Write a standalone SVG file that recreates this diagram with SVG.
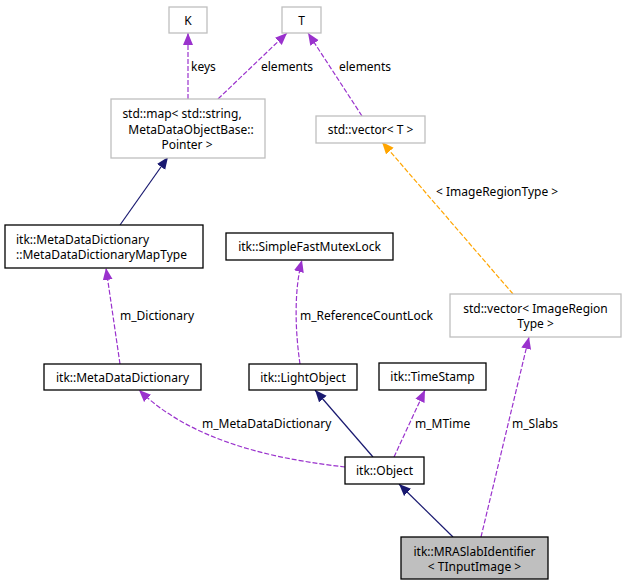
<svg xmlns="http://www.w3.org/2000/svg" width="627" height="587" viewBox="0 0 627 587">
<style>
text{font-family:"Noto Sans",sans-serif;font-size:12px;fill:#000}
.m{text-anchor:middle}
.ext{fill:#fff;stroke:#bfbfbf;stroke-width:1.3}
.doc{fill:#fff;stroke:#000;stroke-width:1.3}
.main{fill:#bfbfbf;stroke:#000;stroke-width:1.3}
.p{fill:none;stroke:#9a32cd;stroke-width:1.2;stroke-dasharray:5,2}
.n{fill:none;stroke:#191970;stroke-width:1.2}
.o{fill:none;stroke:#ffa500;stroke-width:1.2;stroke-dasharray:5,2}
</style>
<defs>
<marker id="ap" markerUnits="userSpaceOnUse" markerWidth="13" markerHeight="11" refX="12" refY="5.5" orient="auto"><path d="M0,0.5 L12,5.5 L0,10.5 Z" fill="#9a32cd"/></marker>
<marker id="an" markerUnits="userSpaceOnUse" markerWidth="13" markerHeight="11" refX="12" refY="5.5" orient="auto"><path d="M0,0.5 L12,5.5 L0,10.5 Z" fill="#191970"/></marker>
<marker id="ao" markerUnits="userSpaceOnUse" markerWidth="13" markerHeight="11" refX="12" refY="5.5" orient="auto"><path d="M0,0.5 L12,5.5 L0,10.5 Z" fill="#ffa500"/></marker>
</defs>
<g id="connectors">
<path class="p" d="M188,99 L188,33" marker-end="url(#ap)"/>
<path class="p" d="M218,99 L287,33" marker-end="url(#ap)"/>
<path class="p" d="M362,116 L308,33" marker-end="url(#ap)"/>
<path class="n" d="M120,225 L168,157" marker-end="url(#an)"/>
<path class="p" d="M120,364 L106,268" marker-end="url(#ap)"/>
<path class="p" d="M300,364 C295,330 294,290 302,260" marker-end="url(#ap)"/>
<path class="o" d="M513,294 L382,142" marker-end="url(#ao)"/>
<path class="p" d="M345,467 C285,460 195,445 139,390" marker-end="url(#ap)"/>
<path class="n" d="M373,457 L315,390" marker-end="url(#an)"/>
<path class="p" d="M394,457 L425,390" marker-end="url(#ap)"/>
<path class="n" d="M453,537 L399,484" marker-end="url(#an)"/>
<path class="p" d="M481,537 L529,337" marker-end="url(#ap)"/>
<text x="191" y="71">keys</text>
<text x="261" y="71">elements</text>
<text x="339" y="71">elements</text>
<text x="120" y="320">m_Dictionary</text>
<text x="300" y="320">m_ReferenceCountLock</text>
<text x="436" y="196">&lt; ImageRegionType &gt;</text>
<text x="202" y="428">m_MetaDataDictionary</text>
<text x="415" y="428">m_MTime</text>
<text x="512" y="428">m_Slabs</text>
</g>
<g id="K"><rect class="ext" x="169" y="7" width="38" height="26"/><text class="m" x="188" y="25">K</text></g>
<g id="T"><rect class="ext" x="282" y="7" width="39" height="26"/><text class="m" x="301.5" y="25">T</text></g>
<g id="stdmap"><rect class="ext" x="111" y="99" width="154" height="59"/>
<text class="m" x="182" y="118">std::map&lt; std::string,</text>
<text class="m" x="191" y="134">MetaDataObjectBase::</text>
<text class="m" x="187" y="149">Pointer &gt;</text></g>
<g id="vectorT"><rect class="ext" x="316" y="116" width="109" height="27"/><text class="m" x="370.5" y="134">std::vector&lt; T &gt;</text></g>
<g id="MapType"><rect class="doc" x="5" y="225" width="198" height="43"/>
<text x="16" y="243.5">itk::MetaDataDictionary</text>
<text x="16" y="258.5">::MetaDataDictionaryMapType</text></g>
<g id="Mutex"><rect class="doc" x="226" y="233" width="167" height="27"/><text class="m" x="309.5" y="251">itk::SimpleFastMutexLock</text></g>
<g id="vectorIRT"><rect class="ext" x="450" y="294" width="171" height="43"/>
<text class="m" x="535.5" y="312.5">std::vector&lt; ImageRegion</text>
<text class="m" x="535.5" y="327.5">Type &gt;</text></g>
<g id="MetaDataDictionary"><rect class="doc" x="44" y="364" width="157" height="26"/><text class="m" x="122.5" y="381.5">itk::MetaDataDictionary</text></g>
<g id="LightObject"><rect class="doc" x="249" y="364" width="108" height="26"/><text class="m" x="303" y="381.5">itk::LightObject</text></g>
<g id="TimeStamp"><rect class="doc" x="379" y="363" width="107" height="27"/><text class="m" x="432.5" y="381">itk::TimeStamp</text></g>
<g id="Object"><rect class="doc" x="345" y="457" width="79" height="27"/><text class="m" x="384.5" y="475">itk::Object</text></g>
<g id="MRASlab"><rect class="main" x="401" y="537" width="147" height="42"/>
<text class="m" x="474.5" y="555.5">itk::MRASlabIdentifier</text>
<text class="m" x="474.5" y="570.5">&lt; TInputImage &gt;</text></g>
</svg>
